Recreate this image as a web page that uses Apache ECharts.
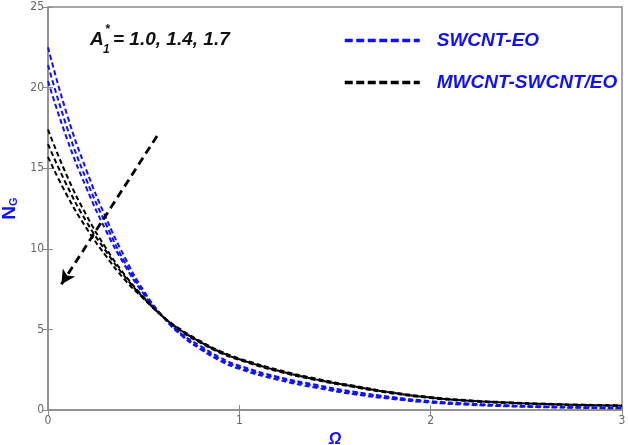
<!DOCTYPE html>
<html>
<head>
<meta charset="utf-8">
<script src="https://cdn.jsdelivr.net/npm/echarts@6/dist/echarts.min.js"></script>
<style>
html,body{margin:0;padding:0;background:#fff;}
#c{width:628px;height:445px;}
</style>
</head>
<body>
<div id="c"></div>
<script>
// Omega values
var xs = [0,0.1,0.2,0.3,0.4,0.5,0.6,0.7,0.8,0.9,1.0,1.2,1.4,1.6,1.8,2.0,2.2,2.4,2.6,2.8,3.0];
// SWCNT-EO, A1* = 1.0, 1.4, 1.7
var swA10 = [22.5,18.3,14.9,12.0,9.5,7.4,5.8,4.6,3.75,3.05,2.55,1.88,1.38,0.98,0.68,0.46,0.32,0.23,0.17,0.13,0.10];
var swA14 = [21.4,17.5,14.3,11.6,9.2,7.3,5.8,4.65,3.85,3.15,2.65,1.98,1.48,1.06,0.74,0.50,0.36,0.26,0.19,0.15,0.12];
var swA17 = [20.4,16.8,13.8,11.2,9.0,7.2,5.8,4.7,3.95,3.25,2.75,2.06,1.56,1.13,0.80,0.55,0.40,0.29,0.22,0.17,0.14];
// MWCNT-SWCNT/EO, A1* = 1.0, 1.4, 1.7
var mwA10 = [17.4,14.5,12.1,10.1,8.4,7.0,5.8,4.85,4.15,3.55,3.10,2.40,1.86,1.42,1.03,0.74,0.55,0.43,0.35,0.29,0.25];
var mwA14 = [16.5,13.9,11.7,9.9,8.3,6.95,5.8,4.9,4.2,3.6,3.15,2.45,1.90,1.46,1.07,0.77,0.58,0.46,0.37,0.31,0.27];
var mwA17 = [15.7,13.3,11.3,9.6,8.1,6.9,5.8,4.95,4.25,3.65,3.20,2.50,1.95,1.50,1.10,0.80,0.60,0.48,0.39,0.33,0.29];
// arrow (start, end) in data coords
var arrowStart = [0.57, 17.0];
var arrowEnd = [0.07, 7.8];
var legendNames = ['SWCNT-EO', 'MWCNT-SWCNT/EO'];
var xTicks = [0, 1, 2, 3];
var yTicks = [0, 5, 10, 15, 20, 25];

var BLUE = '#1010ff';
var FONT = '"Liberation Sans", Arial, sans-serif';

function pairs(ys){ return xs.map(function(x,i){ return [x, ys[i]]; }); }
function curve(name, ys, color){
  return {
    type: 'line', name: name, data: pairs(ys), symbol: 'none', showSymbol: false,
    smooth: true,
    lineStyle: { color: color, width: 2, type: [5, 3] },
    itemStyle: { color: color },
    z: 3
  };
}

var axisGray = '#8c8c8c';
var chart = echarts.init(document.getElementById('c'), null, {renderer: 'canvas'});
var series = [
  curve(legendNames[0], swA10, BLUE),
  curve(legendNames[0], swA14, BLUE),
  curve(legendNames[0], swA17, BLUE),
  curve(legendNames[1], mwA10, '#000'),
  curve(legendNames[1], mwA14, '#000'),
  curve(legendNames[1], mwA17, '#000'),
  {
    type: 'line', name: 'arrow', data: [], symbol: 'none',
    markLine: {
      silent: true, symbol: ['none', 'arrow'], symbolSize: [11, 14],
      label: { show: false },
      lineStyle: { color: '#000', width: 2.8, type: [8, 5] },
      data: [[{ coord: arrowStart }, { coord: arrowEnd }]]
    }
  }
];

chart.setOption({
  animation: false,
  backgroundColor: '#fff',
  grid: { left: 48, right: 6, top: 7, bottom: 35, show: true, borderColor: axisGray, borderWidth: 1.5,
          containLabel: false, outerBoundsMode: 'none' },
  legend: {
    data: legendNames, orient: 'vertical', left: 338, top: 26, itemWidth: 75, itemHeight: 14, itemGap: 23,
    lineStyle: { width: 3.5, type: [8, 3.5] },
    itemStyle: { opacity: 0 },
    textStyle: { color: BLUE, fontSize: 19, fontWeight: 'bold', fontStyle: 'italic', fontFamily: FONT, padding: [0,0,0,12] }
  },
  xAxis: [{
    type: 'value', min: 0, max: 3, interval: 1,
    name: 'Ω', nameLocation: 'middle', nameGap: 10,
    nameTextStyle: { color: BLUE, fontSize: 16, fontWeight: 'bold', fontStyle: 'italic', fontFamily: FONT },
    axisLine: { lineStyle: { color: axisGray, width: 1.5 } },
    axisTick: { inside: true, length: 5, lineStyle: { color: axisGray } },
    axisLabel: { color: '#666', fontSize: 12, fontFamily: '"DejaVu Sans Condensed", sans-serif', margin: 5,
      formatter: function(v){ return xTicks.indexOf(v) >= 0 ? String(v) : ''; } },
    splitLine: { show: false }
  }, {
    type: 'value', min: 0, max: 3, interval: 1, position: 'top',
    axisLine: { show: false }, axisTick: { inside: true, length: 5, lineStyle: { color: axisGray } },
    axisLabel: { show: false }, splitLine: { show: false }
  }],
  yAxis: [{
    type: 'value', min: 0, max: 25, interval: 5,
    name: '{n|N}{s|G}', nameLocation: 'middle', nameGap: 28, nameRotate: 90,
    nameTextStyle: { rich: {
      n: { color: BLUE, fontSize: 19, fontWeight: 'bold', fontFamily: FONT },
      s: { color: BLUE, fontSize: 11, fontWeight: 'bold', fontFamily: FONT, verticalAlign: 'bottom', padding: [8,0,0,0] }
    } },
    axisLine: { lineStyle: { color: axisGray, width: 1.5 } },
    axisTick: { inside: true, length: 5, lineStyle: { color: axisGray } },
    axisLabel: { color: '#666', fontSize: 12, fontFamily: '"DejaVu Sans Condensed", sans-serif', margin: 4,
      formatter: function(v){ return yTicks.indexOf(v) >= 0 ? String(v) : ''; } },
    splitLine: { show: false }
  }, {
    type: 'value', min: 0, max: 25, interval: 5, position: 'right',
    axisLine: { show: false }, axisTick: { inside: true, length: 5, lineStyle: { color: axisGray } },
    axisLabel: { show: false }, splitLine: { show: false }
  }],
  graphic: [
    { type: 'text', left: 90, top: 30, style: { text: 'A', font: 'italic bold 19px ' + FONT, fill: '#111' } },
    { type: 'text', left: 105, top: 24, style: { text: '*', font: 'italic bold 12px ' + FONT, fill: '#111' } },
    { type: 'text', left: 103, top: 44, style: { text: '1', font: 'italic bold 12px ' + FONT, fill: '#111' } },
    { type: 'text', left: 113, top: 30, style: { text: '= 1.0, 1.4, 1.7', font: 'italic bold 19px ' + FONT, fill: '#111' } }
  ],
  series: series
});
</script>
</body>
</html>
